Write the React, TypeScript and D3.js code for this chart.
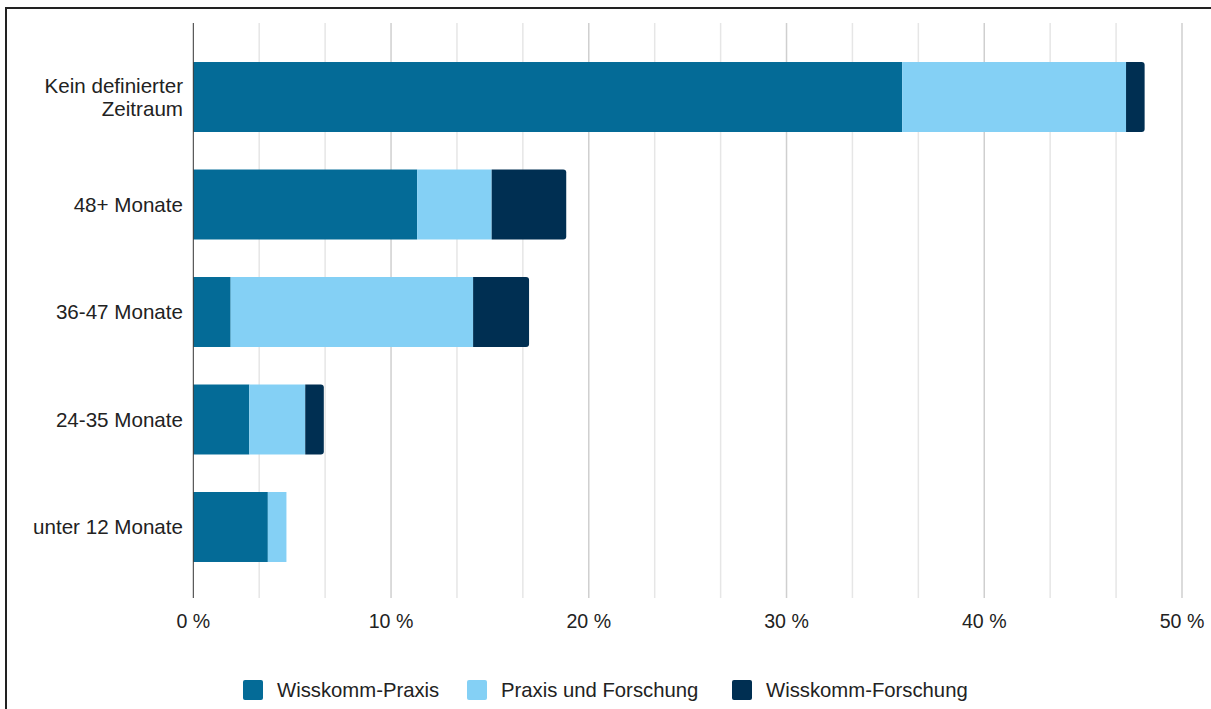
import React from "react";
import * as d3 from "d3";

const categories = ["Kein definierter Zeitraum", "48+ Monate", "36-47 Monate", "24-35 Monate", "unter 12 Monate"];
const seriesNames = ["Wisskomm-Praxis", "Praxis und Forschung", "Wisskomm-Forschung"];
const praxis = [35.85, 11.32, 1.89, 2.83, 3.77];
const praxisForschung = [11.32, 3.77, 12.26, 2.83, 0.94];
const forschung = [0.94, 3.77, 2.83, 0.94, 0];
const colors = ["#046b97", "#84d0f5", "#002f52"];
const tickValues = [0, 10, 20, 30, 40, 50];

const W = 1211;
const H = 709;
const FONT = "'Liberation Sans', Arial, sans-serif";

export default function App() {
  const x = d3.scaleLinear().domain([0, 50]).range([193.3, 1182]);
  const y = d3.scaleBand<string>().domain(categories).range([24.5, 599.5]).paddingInner(0.349).paddingOuter(0.349);
  const gridVals = d3.range(0, 50.01, 10 / 3);

  const rows = categories.map((c, i) => ({ c, vals: [praxis[i], praxisForschung[i], forschung[i]] }));
  const stackKeys = [0, 1, 2];
  const stack = d3.stack<any, number>().keys(stackKeys as any).value((d: any, k: any) => d.vals[k]);
  const stacked = stack(rows as any);

  const legendX = [243, 467, 732];

  const roundRight = (x0: number, x1: number, y0: number, h: number, r: number) => {
    const rr = Math.min(r, (x1 - x0));
    return `M${x0},${y0}H${x1 - rr}Q${x1},${y0} ${x1},${y0 + rr}V${y0 + h - rr}Q${x1},${y0 + h} ${x1 - rr},${y0 + h}H${x0}Z`;
  };

  return (
    <svg width={W} height={H} style={{ position: "absolute", left: 0, top: 0, background: "#fff" }} fontFamily={FONT}>
      <rect x={0} y={0} width={W} height={H} fill="#fff" />
      <rect x={6} y={8} width={W + 10} height={H + 10} fill="none" stroke="#222" strokeWidth={2} />
      {gridVals.map((v, i) => {
        const major = Math.abs(v / 10 - Math.round(v / 10)) < 1e-6;
        if (v === 0) return null;
        return (
          <line key={i} x1={x(v)} x2={x(v)} y1={23} y2={598} stroke={major ? "#cfcfcf" : "#e6e6e6"} strokeWidth={1.5} />
        );
      })}
      {stacked.map((layer, si) =>
        layer.map((d: any, ri) => {
          const x0 = x(d[0]);
          const x1 = x(d[1]);
          const yy = y(categories[ri])!;
          const h = y.bandwidth();
          if (x1 - x0 <= 0) return null;
          if (si === 2) {
            return <path key={`${si}-${ri}`} d={roundRight(x0, x1, yy, h, 3)} fill={colors[si]} />;
          }
          return <rect key={`${si}-${ri}`} x={x0} y={yy} width={x1 - x0} height={h} fill={colors[si]} />;
        })
      )}
      <line x1={193.3} x2={193.3} y1={23} y2={598} stroke="#333" strokeWidth={1} />
      {categories.map((c) => {
        const cy = y(c)! + y.bandwidth() / 2;
        const lines = c === "Kein definierter Zeitraum" ? ["Kein definierter", "Zeitraum"] : [c];
        return (
          <text key={c} x={183} y={cy} textAnchor="end" fontSize={20.6} fill="#222">
            {lines.map((l, i) => (
              <tspan key={i} x={183} dy={i === 0 ? (lines.length === 1 ? "0.35em" : -11.5 + 7) : 23}>
                {l}
              </tspan>
            ))}
          </text>
        );
      })}
      {tickValues.map((t) => (
        <text key={t} x={x(t)} y={621} dy="0.35em" textAnchor="middle" fontSize={19.6} fill="#222">
          {`${t} %`}
        </text>
      ))}
      {seriesNames.map((s, i) => (
        <g key={s} transform={`translate(${legendX[i]},680)`}>
          <rect x={0} y={0} width={20} height={20} rx={2} fill={colors[i]} />
          <text x={34} y={10} dy="0.35em" fontSize={20.3} fill="#222">
            {s}
          </text>
        </g>
      ))}
    </svg>
  );
}
